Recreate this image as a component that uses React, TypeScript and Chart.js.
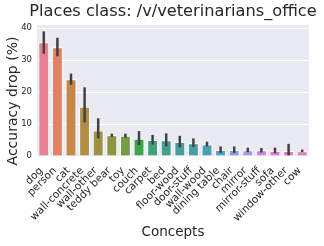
import React, { useEffect, useRef } from "react";
import { Chart, registerables } from "chart.js";

Chart.register(...registerables);

const categories = [
  "dog", "person", "cat", "wall-concrete", "wall-other", "teddy bear", "toy",
  "couch", "carpet", "bed", "floor-wood", "door-stuff", "wall-wood",
  "dining table", "chair", "mirror", "mirror-stuff", "sofa", "window-other", "cow",
];
const values = [35.6, 34.0, 24.0, 15.4, 8.0, 6.5, 6.3, 5.4, 5.0, 4.9, 4.4, 4.0, 3.6, 1.9, 1.9, 1.8, 1.8, 1.6, 1.6, 1.5];
const errLow = [32.0, 31.2, 22.3, 10.5, 5.5, 6.0, 5.7, 3.4, 3.6, 3.0, 2.7, 2.8, 3.0, 1.0, 1.0, 1.2, 1.1, 0.9, 0.2, 1.2];
const errHigh = [39.0, 37.0, 25.8, 21.5, 11.8, 7.0, 7.0, 7.8, 6.6, 7.1, 6.3, 5.5, 4.5, 3.0, 3.0, 2.6, 2.5, 2.6, 3.8, 2.0];
const yTicks = [0, 10, 20, 30, 40];
const titleText = "Places class: /v/veterinarians_office";
const xTitle = "Concepts";
const yTitle = "Accuracy drop (%)";

// seaborn husl palette (old husl implementation) + desaturate 0.75
const M = [
  [3.2406, -1.5372, -0.4986],
  [-0.9689, 1.8758, 0.0415],
  [0.0557, -0.204, 1.057],
];
const refU = 0.19784, refV = 0.46834, kappa = 24389 / 27, eps = 216 / 24389;
function maxChroma(L: number, H: number) {
  const hrad = (H / 360) * 2 * Math.PI;
  const sinH = Math.sin(hrad), cosH = Math.cos(hrad);
  const sub1 = Math.pow(L + 16, 3) / 1560896;
  const sub2 = sub1 > eps ? sub1 : L / kappa;
  let result = Infinity;
  for (const [m1, m2, m3] of M) {
    const top = (0.99915 * m1 + 1.05122 * m2 + 1.1446 * m3) * sub2;
    const rb = 0.8633 * m3 - 0.17266 * m2;
    const lb = 0.12949 * m3 - 0.38848 * m1;
    const bottom = (rb * sinH + lb * cosH) * sub2;
    for (const t of [0, 1]) {
      const C = (L * (top - 1.05122 * t)) / (bottom + 0.17266 * sinH * t);
      if (C > 0 && C < result) result = C;
    }
  }
  return result;
}
function fromLinear(c: number) {
  return c <= 0.0031308 ? 12.92 * c : 1.055 * Math.pow(c, 1 / 2.4) - 0.055;
}
function huslToRgb(H: number, S: number, L: number): number[] {
  const C = (maxChroma(L, H) / 100) * S;
  const hrad = (H / 360) * 2 * Math.PI;
  const U = C * Math.cos(hrad), V = C * Math.sin(hrad);
  const Y = L > 8 ? Math.pow((L + 16) / 116, 3) : L / kappa;
  const vu = U / (13 * L) + refU, vv = V / (13 * L) + refV;
  const X = -(9 * Y * vu) / ((vu - 4) * vv - vu * vv);
  const Z = (9 * Y - 15 * vv * Y - vv * X) / (3 * vv);
  return M.map((r) => Math.min(1, Math.max(0, fromLinear(r[0] * X + r[1] * Y + r[2] * Z))));
}
function desat(rgb: number[], p: number) {
  const [r, g, b] = rgb;
  const mx = Math.max(r, g, b), mn = Math.min(r, g, b);
  const l = (mx + mn) / 2;
  if (mx === mn) return rgb;
  const d = mx - mn;
  let s = l > 0.5 ? d / (2 - mx - mn) : d / (mx + mn);
  let h = 0;
  if (mx === r) h = ((g - b) / d + (g < b ? 6 : 0)) / 6;
  else if (mx === g) h = ((b - r) / d + 2) / 6;
  else h = ((r - g) / d + 4) / 6;
  s *= p;
  const q = l < 0.5 ? l * (1 + s) : l + s - l * s;
  const pp = 2 * l - q;
  const hue = (t: number) => {
    if (t < 0) t += 1;
    if (t > 1) t -= 1;
    if (t < 1 / 6) return pp + (q - pp) * 6 * t;
    if (t < 1 / 2) return q;
    if (t < 2 / 3) return pp + (q - pp) * (2 / 3 - t) * 6;
    return pp;
  };
  return [hue(h + 1 / 3), hue(h), hue(h - 1 / 3)];
}
function palette(n: number) {
  const out: string[] = [];
  for (let i = 0; i < n; i++) {
    const h = ((i / n + 0.01) % 1) * 359;
    const rgb = desat(huslToRgb(h, 0.9 * 99, 0.65 * 99), 0.75);
    out.push(`rgb(${rgb.map((c) => Math.round(c * 255)).join(",")})`);
  }
  return out;
}

const FONT = "'DejaVu Sans', sans-serif";
const TEXT = "#262626";
const XTICK_SIZE = 10.5;

const bgPlugin = {
  id: "bgPlugin",
  beforeDraw(chart: any) {
    const { ctx, chartArea: a } = chart;
    ctx.save();
    ctx.fillStyle = "#EAEAF2";
    ctx.fillRect(a.left, a.top, a.right - a.left, a.bottom - a.top);
    ctx.restore();
  },
  afterDraw(chart: any) {
    const { ctx, chartArea: a } = chart;
    const xs = chart.scales.x;
    const cx = (a.left + a.right) / 2;
    ctx.save();
    ctx.fillStyle = TEXT;
    ctx.textAlign = "center";
    ctx.textBaseline = "middle";
    ctx.font = `16.2px ${FONT}`;
    ctx.fillText(titleText, cx, 12);
    ctx.font = `13.5px ${FONT}`;
    ctx.fillText(xTitle, cx, 232);
    ctx.save();
    ctx.translate(13, 101);
    ctx.rotate(-Math.PI / 2);
    ctx.font = `14px ${FONT}`;
    ctx.fillText(yTitle, 0, 0);
    ctx.restore();
    // rotated category labels, matplotlib-like (ha=right, va=top)
    ctx.font = `${XTICK_SIZE}px ${FONT}`;
    ctx.textAlign = "right";
    ctx.textBaseline = "middle";
    categories.forEach((lab, i) => {
      const x = xs.getPixelForValue(i);
      ctx.save();
      ctx.translate(x - 2.5, a.bottom + 13);
      ctx.rotate(-Math.PI / 4);
      ctx.fillText(lab, 0, 0);
      ctx.restore();
    });
    ctx.restore();
  },
};

const errPlugin = {
  id: "errPlugin",
  afterDatasetsDraw(chart: any) {
    const { ctx } = chart;
    const xs = chart.scales.x, ys = chart.scales.y;
    ctx.save();
    ctx.strokeStyle = "#424242";
    ctx.lineWidth = 2.5;
    ctx.lineCap = "butt";
    categories.forEach((_, i) => {
      const x = xs.getPixelForValue(i);
      ctx.beginPath();
      ctx.moveTo(x, ys.getPixelForValue(errLow[i]));
      ctx.lineTo(x, ys.getPixelForValue(errHigh[i]));
      ctx.stroke();
    });
    ctx.restore();
  },
};

export default function App() {
  const ref = useRef<HTMLCanvasElement>(null);
  useEffect(() => {
    document.body.style.margin = "0";
    const colors = palette(categories.length);
    const chart = new Chart(ref.current!, {
      type: "bar",
      data: {
        labels: categories,
        datasets: [
          {
            data: values,
            backgroundColor: colors,
            borderColor: "#ffffff",
            borderWidth: 1,
            categoryPercentage: 1,
            barPercentage: 0.8,
          },
        ],
      },
      options: {
        animation: false,
        responsive: false,
        layout: { padding: { left: 0, right: 15, top: 25, bottom: 0 } },
        plugins: {
          legend: { display: false },
          tooltip: { enabled: false },
          title: { display: false },
        },
        scales: {
          x: {
            grid: { display: false },
            border: { display: false },
            ticks: { display: false },
            afterFit(scale: any) {
              scale.height = 90;
            },
          },
          y: {
            min: 0,
            max: 41,
            grid: { color: "#ffffff", lineWidth: 1, drawTicks: false },
            border: { display: false },
            afterBuildTicks(scale: any) {
              scale.ticks = yTicks.map((v) => ({ value: v }));
            },
            ticks: {
              color: TEXT,
              font: { family: FONT, size: 8.5 },
              padding: 5,
            },
            afterFit(scale: any) {
              scale.width = 37;
            },
          },
        },
      },
      plugins: [bgPlugin, errPlugin],
    });
    return () => chart.destroy();
  }, []);
  return (
    <div style={{ position: "absolute", left: 0, top: 0, width: 324, height: 246 }}>
      <canvas ref={ref} width={324} height={246} />
    </div>
  );
}
